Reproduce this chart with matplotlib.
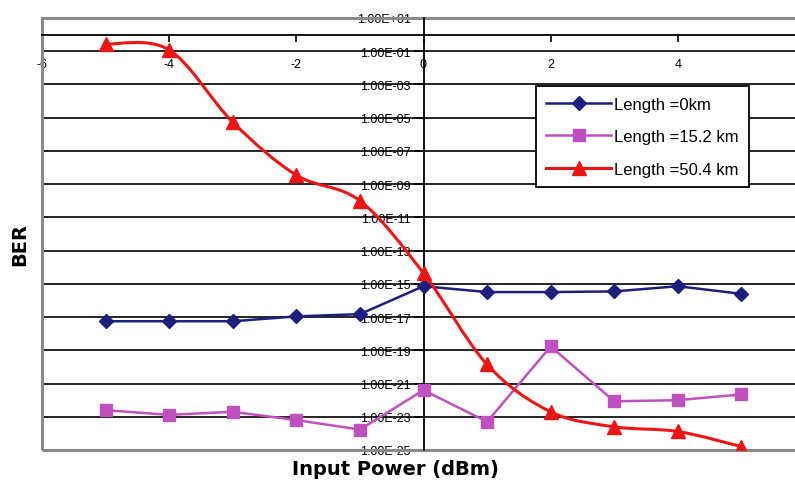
import numpy as np
import matplotlib
matplotlib.use("Agg")
import matplotlib.pyplot as plt
from matplotlib.path import Path
from matplotlib.patches import PathPatch, Rectangle
from matplotlib.lines import Line2D
from matplotlib.ticker import NullLocator

plt.rcParams["font.family"] = "Liberation Sans"

# input power sweep (dBm) and measured BER per fibre length
power_dbm = [-5, -4, -3, -2, -1, 0, 1, 2, 3, 4, 5]
ber_0km = [5.6e-18, 5.6e-18, 5.6e-18, 1.1e-17, 1.5e-17, 7.2e-16,
           3.2e-16, 3.2e-16, 3.5e-16, 7.2e-16, 2.5e-16]
ber_15km = [2.5e-23, 1.3e-23, 2.0e-23, 6.3e-24, 1.7e-24, 4.0e-22,
            5.0e-24, 1.7e-19, 8.5e-23, 1.0e-22, 2.2e-22]
ber_50km = [0.27, 0.12, 5.4e-6, 3.5e-9, 1.0e-10, 4.4e-15,
            1.4e-20, 2.0e-23, 2.5e-24, 1.3e-24, 1.6e-25]
labels = ["Length =0km", "Length =15.2 km", "Length =50.4 km"]
x_ticks = [-6, -4, -2, 0, 2, 4]
y_exps = list(range(-25, 2, 2))

navy = "#1c1f7e"
plum = "#c050c0"
red = "#ee1414"


def smooth_path(x, y):
    # Catmull-Rom style curve through the points, built in log10(y) space
    pts = np.column_stack([np.asarray(x, float), np.log10(y)])
    n = len(pts)
    verts = [pts[0]]
    codes = [Path.MOVETO]
    for i in range(n - 1):
        p0 = pts[max(i - 1, 0)]
        p1 = pts[i]
        p2 = pts[i + 1]
        p3 = pts[min(i + 2, n - 1)]
        verts += [p1 + (p2 - p0) / 6, p2 - (p3 - p1) / 6, p2]
        codes += [Path.CURVE4] * 3
    verts = np.array(verts)
    verts[:, 1] = 10 ** verts[:, 1]
    return Path(verts, codes)


fig = plt.figure(figsize=(7.95, 4.81), dpi=100)
ax = fig.add_axes([42 / 795, 30 / 481, 763 / 795, 432 / 481])

ax.set_yscale("log")
ax.set_xlim(-6, 6)
ax.set_ylim(1e-25, 1e1)

ax.plot(power_dbm, ber_0km, color=navy, lw=1.8, marker="D", ms=7.5, zorder=4)
ax.plot(power_dbm, ber_15km, color=plum, lw=1.8, marker="s", ms=9, zorder=4)
ax.add_patch(PathPatch(smooth_path(power_dbm, ber_50km), fill=False,
                       edgecolor=red, lw=2.2, zorder=5))
ax.plot(power_dbm, ber_50km, ls="none", color=red, marker="^", ms=10, zorder=5)

# axes cross in the middle: y axis at x=0, x axis at BER=1
ax.spines["left"].set_position(("data", 0))
ax.spines["bottom"].set_position(("data", 1))
ax.spines["right"].set_visible(False)
ax.spines["top"].set_visible(False)
for s in ("left", "bottom"):
    ax.spines[s].set_linewidth(1.3)
    ax.spines[s].set_zorder(3)
ax.add_patch(Rectangle((0, 0), 1, 1, transform=ax.transAxes, fill=False,
                       ec="#8a8a8a", lw=2.2, clip_on=False, zorder=3))

ax.set_yticks([10.0 ** e for e in y_exps])
ax.set_yticklabels([f"1.00E{e:+03d}" for e in y_exps])
ax.yaxis.set_minor_locator(NullLocator())
ax.set_xticks(x_ticks)
ax.set_xticklabels([str(v) for v in x_ticks])
ax.tick_params(axis="x", direction="out", length=5, width=1.2, pad=12, labelsize=9)
ax.tick_params(axis="y", direction="out", length=7, width=1.2, pad=2, labelsize=9)
ax.yaxis.grid(True, color="black", lw=1.2, zorder=1)
ax.set_axisbelow(True)

handles = [
    Line2D([], [], color=navy, lw=1.8, marker="D", ms=7.5),
    Line2D([], [], color=plum, lw=1.8, marker="s", ms=9),
    Line2D([], [], color=red, lw=2.2, marker="^", ms=10),
]
leg = ax.legend(handles, labels, loc="upper left", bbox_to_anchor=(0.647, 0.843),
                borderaxespad=0, fancybox=False, framealpha=1, edgecolor="black",
                fontsize=12, handlelength=3.9, handletextpad=0.15,
                borderpad=0.65, labelspacing=1.05)
leg.get_frame().set_linewidth(1.3)
leg.set_zorder(6)

fig.text(395 / 795, 1 - 470 / 481, "Input Power (dBm)", ha="center", va="center",
         fontsize=14, fontweight="bold", family="DejaVu Sans")
fig.text(20 / 795, 1 - 244 / 481, "BER", ha="center", va="center", rotation=90,
         fontsize=14, fontweight="bold", family="DejaVu Sans")

fig.savefig("out.png", dpi=100)
